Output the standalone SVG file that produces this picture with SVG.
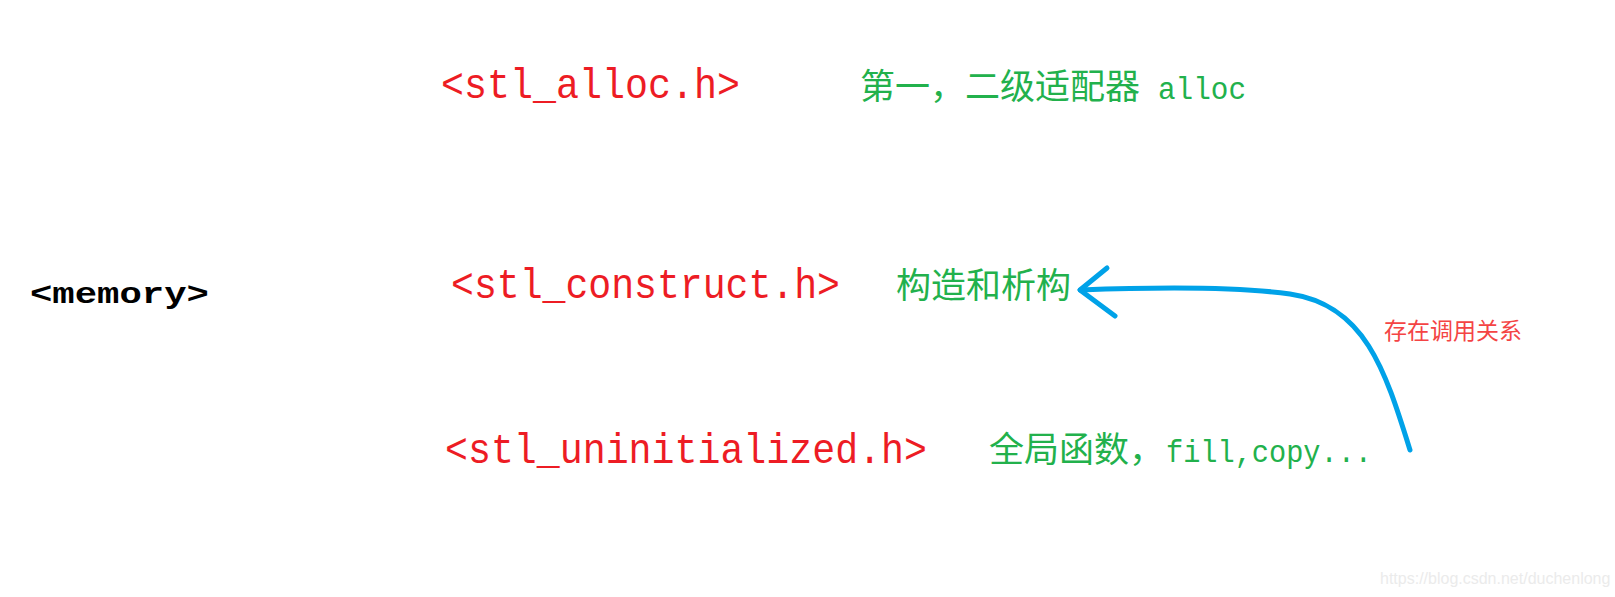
<svg xmlns="http://www.w3.org/2000/svg" width="1615" height="597" viewBox="0 0 1615 597">
<style>
.hdr{font-family:"Liberation Mono","DejaVu Sans Mono",monospace;font-size:42px;fill:#ed1c24;}
.blk{font-family:"Liberation Mono","DejaVu Sans Mono",monospace;font-size:29px;font-weight:bold;fill:#000;}
.cjk{font-family:"Noto Sans CJK SC","Noto Sans",sans-serif;font-size:35px;fill:#22b14c;}
.lat{font-family:"Liberation Mono","DejaVu Sans Mono",monospace;font-size:31px;fill:#22b14c;}
.note{font-family:"Noto Sans CJK SC","Noto Sans",sans-serif;font-size:23px;fill:#f44444;}
.wm{font-family:"Liberation Sans",Arial,sans-serif;font-size:16px;fill:#ebebeb;}
.conn{fill:none;stroke:#00a2e8;stroke-width:5;stroke-linecap:round;stroke-linejoin:round;}
</style>
<rect width="1615" height="597" fill="#fff"/>
<g id="memory">
<text class="blk" x="30" y="303" textLength="179" lengthAdjust="spacingAndGlyphs">&lt;memory&gt;</text>
</g>
<g id="stl_alloc">
<text class="hdr" x="441" y="98" textLength="299" lengthAdjust="spacingAndGlyphs">&lt;stl_alloc.h&gt;</text>
<text class="cjk" x="860" y="99">第一，二级适配器</text>
<text class="lat" x="1158" y="99" textLength="88" lengthAdjust="spacingAndGlyphs">alloc</text>
</g>
<g id="stl_construct">
<text class="hdr" x="451" y="298" textLength="389" lengthAdjust="spacingAndGlyphs">&lt;stl_construct.h&gt;</text>
<text class="cjk" x="896" y="298">构造和析构</text>
</g>
<g id="stl_uninitialized">
<text class="hdr" x="445" y="463" textLength="482" lengthAdjust="spacingAndGlyphs">&lt;stl_uninitialized.h&gt;</text>
<text class="cjk" x="989" y="462">全局函数，</text>
<text class="lat" x="1166" y="462" textLength="206" lengthAdjust="spacingAndGlyphs">fill,copy...</text>
</g>
<g id="connectors">
<path class="conn" d="M1410,450 C1385,370 1365,305 1290,294 C1240,287 1160,287 1080,290"/>
<polyline class="conn" points="1107,268 1080,290 1115,316"/>
</g>
<g id="label">
<text class="note" x="1384" y="339">存在调用关系</text>
</g>
<text class="wm" x="1380" y="584">https://blog.csdn.net/duchenlong</text>
</svg>
